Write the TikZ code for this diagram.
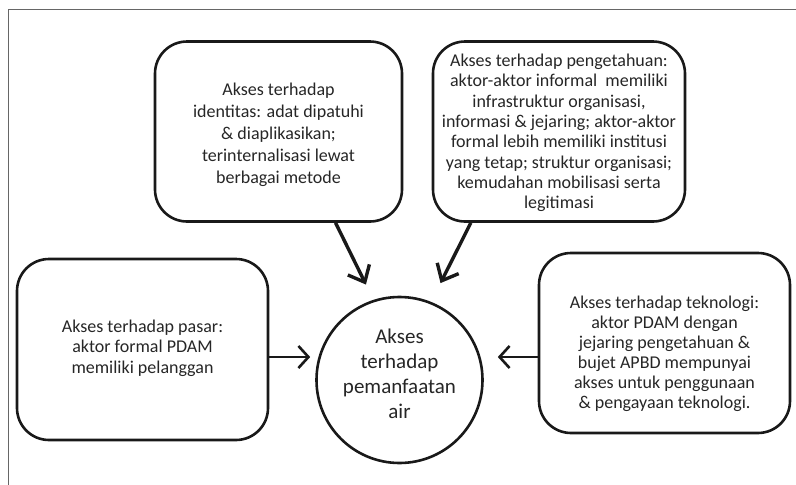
\documentclass[tikz,border=0pt]{standalone}
\usepackage{fontspec}
\setmainfont{Carlito}
\usetikzlibrary{arrows.meta,positioning}

\tikzset{
  akses/.style={draw=black!90, line width=2.6pt, rounded corners=32pt,
    inner sep=0pt},
  isi/.style={text=black!85, align=center, inner sep=0pt},
  pusat/.style={draw=black!90, circle, line width=2.6pt, align=center,
    inner sep=0pt, minimum size=166pt, text=black!85,
    font=\fontsize{21}{25}\selectfont},
  panah/.style={line width=2.6pt, black!90,
    -{Straight Barb[length=10pt,width=22pt,line width=2.6pt]}},
  panahbesar/.style={line width=3.4pt, black!90,
    -{Straight Barb[length=14pt,width=24pt,line width=3.4pt]}}
}

\begin{document}
\begin{tikzpicture}[x=1pt,y=-1pt]

    \useasboundingbox (0,0) rectangle (796,485);
    % frame (only left and top remain)
    \draw[black!60, line width=1pt] (8.5,485) -- (8.5,9) -- (796,9);

    \node[pusat] (air) at (399.5,380) {};
    \node[isi, font=\fontsize{21}{25}\selectfont] at (399.5,374)
      {Akses\\ terhadap\\ pemanfaatan\\ air};

    \node[akses, minimum width=247pt, minimum height=180pt]
      (identitas) at (278.5,131.5) {};
    \node[isi, font=\fontsize{18}{22}\selectfont] at (278.5,135)
      {Akses terhadap\\ identitas: adat dipatuhi\\ \& diaplikasikan;\\
       terinternalisasi lewat\\ berbagai metode};

    \node[akses, minimum width=252pt, minimum height=180pt]
      (pengetahuan) at (559,131.5) {};
    \node[isi, font=\fontsize{18}{20.3}\selectfont] at (559,133)
      {Akses terhadap pengetahuan:\\ aktor-aktor informal\ \ memiliki\\
       infrastruktur organisasi,\\ informasi \& jejaring; aktor-aktor\\
       formal lebih memiliki institusi\\ yang tetap; struktur organisasi;\\
       kemudahan mobilisasi serta\\ legitimasi};

    \node[akses, minimum width=251pt, minimum height=181pt]
      (pasar) at (142.5,349.5) {};
    \node[isi, font=\fontsize{18}{20.3}\selectfont] at (142.5,348)
      {Akses terhadap pasar:\\ aktor formal PDAM\\ memiliki pelanggan};

    \node[akses, minimum width=251pt, minimum height=180pt]
      (teknologi) at (664.5,343) {};
    \node[isi, font=\fontsize{18}{20}\selectfont] at (664.5,354)
      {Akses terhadap teknologi:\\ aktor PDAM dengan\\
       jejaring pengetahuan \&\\ bujet APBD mempunyai\\
       akses untuk penggunaan\\ \& pengayaan teknologi.};

    \draw[panahbesar, shorten >=17pt] (identitas.-58) -- (air.108.3);
    \draw[panahbesar, shorten >=21pt] (pengetahuan.-134) -- (air.68.9);

    \draw[panah, shorten >=5pt] ([yshift=-7.5pt]pasar.east)
      -- ([yshift=-7.5pt]pasar.east -| air.west);
    \draw[panah, shorten >=14pt] ([yshift=-14pt]teknologi.west)
      -- ([yshift=-14pt]teknologi.west -| air.east);

\end{tikzpicture}
\end{document}
